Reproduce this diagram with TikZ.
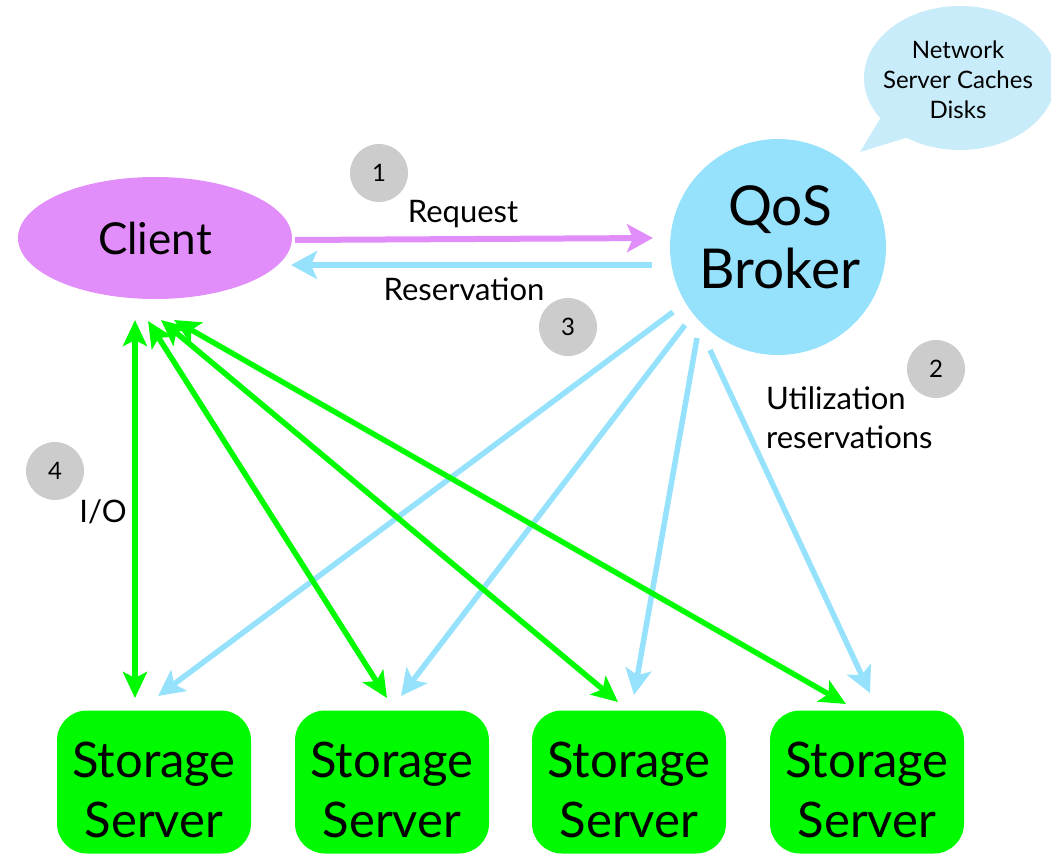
\documentclass[tikz,border=0pt]{standalone}
\usepackage{fontspec}
\setmainfont{Lato}
\usetikzlibrary{arrows.meta,shapes.geometric}

\definecolor{clientviolet}{RGB}{225,142,250}
\definecolor{brokerblue}{RGB}{150,226,252}
\definecolor{bubbleblue}{RGB}{200,236,250}
\definecolor{iogreen}{RGB}{0,250,0}
\definecolor{badgegray}{RGB}{204,204,204}

\newcommand{\fs}[1]{\fontsize{#1}{1.2\dimexpr#1pt\relax}\selectfont}

\tikzset{
  server/.style={draw=none, fill=iogreen, rounded corners=30pt, minimum width=194pt,
    minimum height=143pt, inner sep=0pt},
  servertext/.style={align=center, inner sep=0pt, font=\fs{49}},
  badge/.style={circle, fill=badgegray, minimum size=58pt, inner sep=0pt, font=\fs{24}},
  label/.style={font=\fs{31}, inner sep=0pt},
  iolink/.style={draw=iogreen, line width=5.5pt,
    {Stealth[length=26pt,width=24pt,inset=6pt]}-{Stealth[length=26pt,width=24pt,inset=6pt]}},
  reslink/.style={draw=brokerblue, line width=5.5pt,
    -{Stealth[length=26pt,width=26pt,inset=6pt]}},
  msg/.style={line width=6pt, -{Stealth[length=26pt,width=28pt,inset=6pt]}},
}

\begin{document}
\begin{tikzpicture}[x=1pt,y=-1pt]
\useasboundingbox (0,0) rectangle (1051,854);

% speech bubble attached to the broker
\fill[bubbleblue] (960,78) ellipse [x radius=96pt, y radius=72pt];
\fill[bubbleblue] (884,112) -- (860,152) -- (912,136) -- cycle;
\node[font=\fs{24}, align=center, inner sep=0pt] (resources) at (958,80)
  {Network\\[1pt]Server Caches\\[1pt]Disks};

% main actors
\node[ellipse, fill=clientviolet, minimum width=274pt, minimum height=122pt,
  inner sep=0pt, font=\fs{44}] (client) at (155,238) {Client};
\node[circle, fill=brokerblue, minimum size=216pt, inner sep=0pt] (broker) at (778,247) {};
\node[align=center, inner sep=0pt, font=\fs{55}] (brokertext) at (780,237)
  {QoS\\[-3pt]Broker};

% storage servers
\node[server] (s1) at (154,782) {};
\node[server] (s2) at (392,782) {};
\node[server] (s3) at (629,782) {};
\node[server] (s4) at (867,782) {};
\node[servertext] (s1t) at (154,790) {Storage\\[1pt]Server};
\node[servertext] (s2t) at (392,790) {Storage\\[1pt]Server};
\node[servertext] (s3t) at (629,790) {Storage\\[1pt]Server};
\node[servertext] (s4t) at (867,790) {Storage\\[1pt]Server};

% step badges
\node[badge] (b1) at (379,173) {1};
\node[badge] (b2) at (936,369) {2};
\node[badge] (b3) at (568,327) {3};
\node[badge] (b4) at (55,471) {4};

% connector end points
\coordinate (reqA) at (295,240);  \coordinate (reqB) at (653,238);
\coordinate (resA) at (652,265);  \coordinate (resB) at (291,265);

\coordinate (u1) at (673,312);  \coordinate (v1) at (158,696);
\coordinate (u2) at (685,325);  \coordinate (v2) at (401,696);
\coordinate (u3) at (697,338);  \coordinate (v3) at (634,695);
\coordinate (u4) at (710,350);  \coordinate (v4) at (870,693);

\coordinate (c1) at (135,320);  \coordinate (w1) at (135,698);
\coordinate (c2) at (148,321);  \coordinate (w2) at (387,698);
\coordinate (c3) at (161,320);  \coordinate (w3) at (618,702);
\coordinate (c4) at (174,320);  \coordinate (w4) at (846,704);

% request / reservation
\draw[msg, draw=clientviolet, fill=clientviolet] (reqA) -- (reqB);
\draw[msg, draw=brokerblue] (resA) -- (resB);
\node[label] (request) at (463,214) {Request};
\node[label] (reservation) at (464,289) {Reservation};

% broker to servers
\draw[reslink] (u1) -- (v1);
\draw[reslink] (u2) -- (v2);
\draw[reslink] (u3) -- (v3);
\draw[reslink] (u4) -- (v4);
\node[label, anchor=west, align=left] (util) at (766,418)
  {Utilization\\[2pt]reservations};

% client to servers I/O
\draw[iolink] (c1) -- (w1);
\draw[iolink] (c2) -- (w2);
\draw[iolink] (c3) -- (w3);
\draw[iolink] (c4) -- (w4);
\node[label] (io) at (103,512) {I/O};
\end{tikzpicture}
\end{document}
